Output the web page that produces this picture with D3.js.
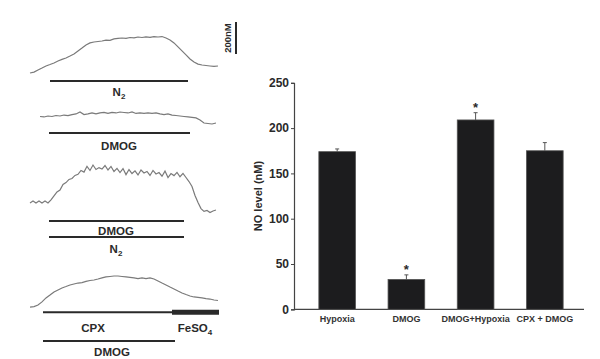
<!DOCTYPE html>
<html>
<head>
<meta charset="utf-8">
<script src="https://cdn.jsdelivr.net/npm/d3@7"></script>
<style>
  body { margin: 0; background: #fff; }
  svg { display: block; font-family: "Liberation Sans", Arial, sans-serif; }
</style>
</head>
<body>
<svg id="chart" width="600" height="359"></svg>
<script>
// bar chart data
const groups = ['Hypoxia', 'DMOG', 'DMOG+Hypoxia', 'CPX + DMOG'];
const noLevel = [174, 33, 209, 175];
const noErr = [3, 5, 8, 9];
const marked = [false, true, true, false];
const yTicks = [0, 50, 100, 150, 200, 250];

// recorded NO traces (nM above each trace's baseline, evenly sampled)
const traceN2 = [3, 9, 22, 34, 47, 56, 66, 78, 88, 97, 109, 122, 141, 159, 178, 191, 197, 200, 203, 209,
  207, 216, 219, 222, 220, 225, 223, 228, 225, 229, 226, 231, 228, 231, 222, 209, 191, 166, 141, 116,
  91, 72, 59, 53, 50, 47, 44, 47];
const traceDMOG = [47, 44, 50, 47, 53, 50, 56, 53, 59, 63, 75, 59, 63, 69, 63, 69, 72, 66, 72, 69,
  75, 72, 69, 75, 66, 69, 66, 69, 66, 69, 63, 59, 63, 56, 53, 50, 47, 44, 41, 38, 25, 6, 3, 0, 6];
const traceDMOGN2 = [69, 81, 69, 81, 69, 81, 69, 88, 113, 138, 150, 185, 196, 216, 222, 241, 248, 272, 262, 298,
  272, 306, 278, 290, 281, 303, 275, 297, 266, 285, 259, 284, 246, 278, 253, 270, 244, 275, 256, 266,
  241, 272, 250, 259, 236, 268, 228, 253, 240, 260, 233, 254, 228, 203, 172, 116, 72, 34, 16, 22, 9, 19, 25];
const traceCPX = [6, 9, 19, 38, 63, 81, 100, 113, 125, 134, 144, 150, 156, 159, 166, 172, 175, 181, 188, 194,
  197, 200, 200, 197, 194, 191, 188, 184, 188, 184, 188, 181, 169, 156, 144, 131, 119, 106, 94, 84,
  75, 69, 66, 63, 59, 56, 50, 47];

const svg = d3.select('#chart');
const ink = '#2a2a2a';

// ---------- left panel: traces ----------
const pxPerNM = 32 / 200;   // scale bar: 200 nM

function drawTrace(values, x0, x1, baseY) {
	let x = d3.scaleLinear().domain([0, values.length - 1]).range([x0, x1]);
	let y = d3.scaleLinear().domain([0, 200]).range([baseY, baseY - 200 * pxPerNM]);
	svg.append('path')
		.datum(values)
		.attr('fill', 'none')
		.attr('stroke', '#7a7a7a')
		.attr('stroke-width', 1.2)
		.attr('d', d3.line().x((d, i) => x(i)).y(d => y(d)));
}

drawTrace(traceN2, 30, 218, 73.5);
drawTrace(traceDMOG, 40, 216, 124);
drawTrace(traceDMOGN2, 30, 216, 214);
drawTrace(traceCPX, 30, 218, 308);

// treatment bars
function hbar(x0, x1, y, w) {
	svg.append('line')
		.attr('x1', x0).attr('x2', x1)
		.attr('y1', y).attr('y2', y)
		.attr('stroke', ink)
		.attr('stroke-width', w || 2);
}

function label(txt, x, y, sub) {
	let t = svg.append('text')
		.attr('x', x).attr('y', y)
		.attr('text-anchor', 'middle')
		.attr('font-size', 11.5)
		.attr('font-weight', 'bold')
		.attr('fill', ink)
		.text(txt);
	if (sub) {
		t.append('tspan')
			.attr('font-size', 8)
			.attr('dy', 3)
			.text(sub);
	}
}

hbar(50, 188, 81);
label('N', 119, 96, '2');
hbar(49, 190, 133);
label('DMOG', 119, 150);
hbar(49, 184, 221);
label('DMOG', 116, 235);
hbar(49, 184, 237);
label('N', 116, 253, '2');
hbar(43, 172, 312.3);
hbar(172, 219, 312.3, 5);
label('CPX', 93, 332);
label('FeSO', 195, 332, '4');
hbar(43, 175, 341);
label('DMOG', 112, 356);

// scale bar
svg.append('line')
	.attr('x1', 236).attr('x2', 236)
	.attr('y1', 22).attr('y2', 54)
	.attr('stroke', ink)
	.attr('stroke-width', 2);
svg.append('text')
	.attr('transform', 'translate(231,38) rotate(-90)')
	.attr('text-anchor', 'middle')
	.attr('font-size', 9.5)
	.attr('font-weight', 'bold')
	.attr('fill', ink)
	.text('200nM');

// ---------- right panel: bar chart ----------
const x = d3.scaleBand().domain(groups).range([305, 577]).paddingInner(0.47).paddingOuter(0.2);
const y = d3.scaleLinear().domain([0, 250]).range([309.3, 82.8]);

const yAxis = svg.append('g')
	.attr('transform', 'translate(294,0)')
	.call(d3.axisLeft(y).tickValues(yTicks).tickSize(3).tickPadding(2));
yAxis.select('.domain').attr('stroke', '#444').attr('stroke-width', 1.2);
yAxis.selectAll('.tick line').attr('stroke', '#444');
yAxis.selectAll('text')
	.attr('font-size', 12)
	.attr('font-weight', 'bold')
	.attr('fill', ink)
	.attr('font-family', '"Liberation Sans", Arial, sans-serif');

svg.append('line')
	.attr('x1', 294).attr('x2', 584)
	.attr('y1', y(0)).attr('y2', y(0))
	.attr('stroke', '#444')
	.attr('stroke-width', 1.2);

svg.append('text')
	.attr('transform', 'translate(262,' + ((y(0) + y(250)) / 2) + ') rotate(-90)')
	.attr('text-anchor', 'middle')
	.attr('font-size', 11)
	.attr('font-weight', 'bold')
	.attr('fill', ink)
	.text('NO level (nM)');

const bars = svg.append('g');
groups.forEach((g, i) => {
	let cx = x(g) + x.bandwidth() / 2;
	// error bar
	bars.append('line')
		.attr('x1', cx).attr('x2', cx)
		.attr('y1', y(noLevel[i])).attr('y2', y(noLevel[i] + noErr[i]))
		.attr('stroke', '#555').attr('stroke-width', 1);
	bars.append('line')
		.attr('x1', cx - 2).attr('x2', cx + 2)
		.attr('y1', y(noLevel[i] + noErr[i])).attr('y2', y(noLevel[i] + noErr[i]))
		.attr('stroke', '#555').attr('stroke-width', 1);
	bars.append('rect')
		.attr('x', x(g))
		.attr('y', y(noLevel[i]))
		.attr('width', x.bandwidth())
		.attr('height', y(0) - y(noLevel[i]))
		.attr('fill', '#1c1c1e')
		.attr('stroke', '#555')
		.attr('stroke-width', 0.8);
	if (marked[i]) {
		bars.append('text')
			.attr('x', cx)
			.attr('y', y(noLevel[i] + noErr[i]) - 1)
			.attr('text-anchor', 'middle')
			.attr('font-size', 13)
			.attr('font-weight', 'bold')
			.attr('fill', ink)
			.text('*');
	}
	bars.append('text')
		.attr('x', cx)
		.attr('y', y(0) + 13)
		.attr('text-anchor', 'middle')
		.attr('font-size', 9)
		.attr('font-weight', 'bold')
		.attr('fill', '#333')
		.text(g);
});
</script>
</body>
</html>
